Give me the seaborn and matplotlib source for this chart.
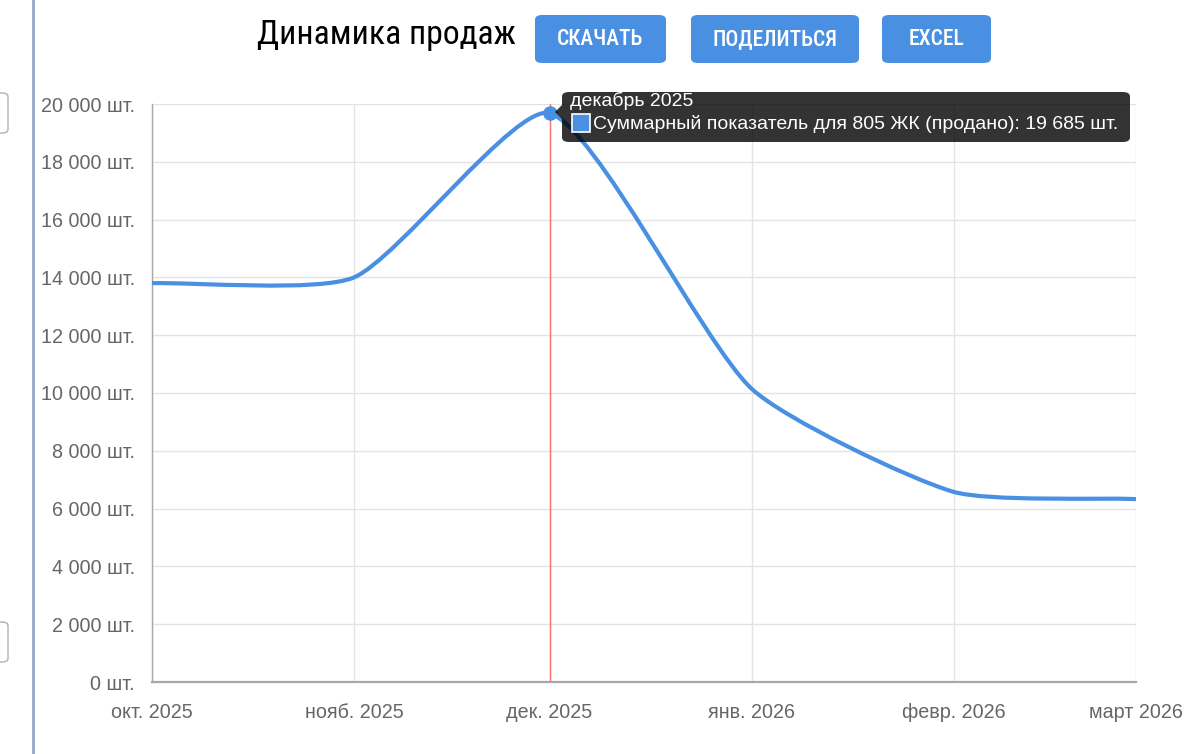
from datetime import datetime

import numpy as np
import matplotlib
matplotlib.use("Agg")
import matplotlib.pyplot as plt
import matplotlib.dates as mdates
from matplotlib import font_manager
from matplotlib.path import Path
from matplotlib.patches import PathPatch, FancyBboxPatch, Polygon, Rectangle
import pandas as pd
import seaborn as sns

# data
months = ["2025-10-01", "2025-11-01", "2025-12-01", "2026-01-01", "2026-02-01", "2026-03-01"]
sold = [13800, 14000, 19685, 10150, 6580, 6330]
x_labels = ["окт. 2025", "нояб. 2025", "дек. 2025", "янв. 2026", "февр. 2026", "март 2026"]
y_ticks = [0, 2000, 4000, 6000, 8000, 10000, 12000, 14000, 16000, 18000, 20000]
y_labels = [f"{v:,}".replace(",", " ") + " шт." for v in y_ticks]
hover_idx = 2
hover_title = "декабрь 2025"
hover_text = "Суммарный показатель для 805 ЖК (продано): 19 685 шт."
title = "Динамика продаж"
buttons = ["СКАЧАТЬ", "ПОДЕЛИТЬСЯ", "EXCEL"]

BLUE = "#4a90e2"
W, H = 1200, 754

sns.set_style("white")
available = {f.name for f in font_manager.fontManager.ttflist}
narrow = next((f for f in ["Liberation Sans Narrow", "Roboto Condensed", "Open Sans Condensed"]
               if f in available), "Liberation Sans")
plt.rcParams["font.family"] = ["Liberation Sans", "DejaVu Sans"]

df = pd.DataFrame({"month": pd.to_datetime(months), "sold": sold})
df["x"] = mdates.date2num(df["month"])

fig = plt.figure(figsize=(W / 100, H / 100), dpi=100)
ax = fig.add_axes([152 / W, 72 / H, 984 / W, 578 / H])


def px(x, y):
    # page pixel (top-left origin) -> figure fraction
    return x / W, 1 - y / H


ax.set_xlim(df["x"].iloc[0], df["x"].iloc[-1])
ax.set_ylim(0, 20000)
ax.set_xticks(df["x"])
ax.set_xticklabels(x_labels)
ax.set_yticks(y_ticks)
ax.set_yticklabels(y_labels)
ax.tick_params(axis="both", colors="#dddddd", labelcolor="#666666", labelsize=14.2,
               length=11, width=1)
ax.tick_params(axis="x", pad=4)
ax.tick_params(axis="y", pad=1.5)
ax.grid(True, color="#e3e3e3", linewidth=1)
ax.set_axisbelow(True)
for side in ["top", "right"]:
    ax.spines[side].set_visible(False)
ax.spines["left"].set_color("#a8a8a8")
ax.spines["left"].set_linewidth(1)
ax.spines["bottom"].set_color("#a8a8a8")
ax.spines["bottom"].set_linewidth(1.6)

# smooth curve: Chart.js style bezier computed in pixel space
pts = ax.transData.transform(np.column_stack([df["x"], df["sold"]]))
n = len(pts)
tension = 0.2
cp_prev, cp_next = [], []
for i in range(n):
    prev = pts[max(i - 1, 0)]
    cur = pts[i]
    nxt = pts[min(i + 1, n - 1)]
    d01 = np.hypot(*(cur - prev))
    d12 = np.hypot(*(nxt - cur))
    tot = d01 + d12
    s01 = d01 / tot if tot else 0
    s12 = d12 / tot if tot else 0
    cp_prev.append(cur - tension * s01 * (nxt - prev))
    cp_next.append(cur + tension * s12 * (nxt - prev))
bbox = ax.bbox
cp_prev = [np.clip(c, [bbox.x0, bbox.y0], [bbox.x1, bbox.y1]) for c in cp_prev]
cp_next = [np.clip(c, [bbox.x0, bbox.y0], [bbox.x1, bbox.y1]) for c in cp_next]
verts = [pts[0]]
codes = [Path.MOVETO]
for i in range(n - 1):
    verts += [cp_next[i], cp_prev[i + 1], pts[i + 1]]
    codes += [Path.CURVE4] * 3
verts = ax.transData.inverted().transform(np.array(verts))
ax.add_patch(PathPatch(Path(verts, codes), facecolor="none", edgecolor=BLUE,
                       linewidth=3.0, capstyle="round", joinstyle="round", zorder=3))

# hover line and point
ax.axvline(df["x"].iloc[hover_idx], color="#ff7070", linewidth=1, zorder=4)
sns.scatterplot(data=df.iloc[[hover_idx]], x="x", y="sold", ax=ax, s=110,
                color=BLUE, edgecolor=BLUE, linewidth=0, zorder=5, clip_on=False)
ax.set_xlabel("")
ax.set_ylabel("")

# tooltip
x0, y0 = px(562, 142)
x1, y1 = px(1130, 92)
fig.patches.append(FancyBboxPatch((x0, y0), x1 - x0, y1 - y0,
                                  boxstyle="round,pad=0,rounding_size=0.006",
                                  transform=fig.transFigure, facecolor="#000000",
                                  alpha=0.8, edgecolor="none", zorder=10))
fig.patches.append(Polygon([px(555, 112), px(562, 105), px(562, 119)], closed=True,
                           transform=fig.transFigure, facecolor="#000000", alpha=0.8,
                           edgecolor="none", zorder=10))
fig.patches.append(Rectangle(px(572, 132), 18 / W, 18 / H, transform=fig.transFigure,
                             facecolor=BLUE, edgecolor="white", linewidth=1.2, zorder=11))
fig.text(*px(570, 101), hover_title, color="white", fontsize=14, va="center",
         ha="left", zorder=12)
fig.text(*px(593, 124), hover_text, color="white", fontsize=14, va="center",
         ha="left", zorder=12)

# header: title and buttons
fig.text(*px(386, 35), title, fontsize=24.2, family=[narrow, "DejaVu Sans"],
         color="black", ha="center", va="center")
button_boxes = [(535, 666), (691, 859), (882, 991)]
for label, (bx0, bx1) in zip(buttons, button_boxes):
    lx, ly = px(bx0, 63)
    rx, ry = px(bx1, 15)
    fig.patches.append(FancyBboxPatch((lx, ly), rx - lx, ry - ly,
                                      boxstyle="round,pad=0,rounding_size=0.006",
                                      transform=fig.transFigure, facecolor=BLUE,
                                      edgecolor="none"))
    fig.text(*px((bx0 + bx1) / 2, 39), label, fontsize=15.5, fontweight="medium",
             family=[narrow, "DejaVu Sans"], color="white", ha="center", va="center")

# page frame on the left
fig.lines.append(plt.Line2D([33 / W, 33 / W], [0, 1], transform=fig.transFigure,
                            color="#8fa8c8", linewidth=2))
for top, bot in [(93, 133), (622, 662)]:
    lx, ly = px(-10, bot)
    rx, ry = px(8, top)
    fig.patches.append(FancyBboxPatch((lx, ly), rx - lx, ry - ly,
                                      boxstyle="round,pad=0,rounding_size=0.005",
                                      transform=fig.transFigure, facecolor="white",
                                      edgecolor="#b0b0b0", linewidth=1))

fig.savefig("out.png", dpi=100)
